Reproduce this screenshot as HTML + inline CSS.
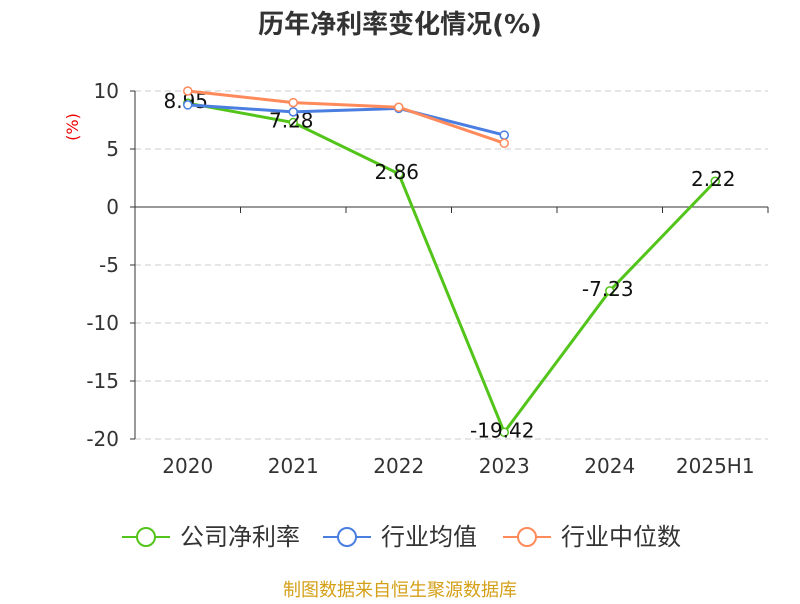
<!DOCTYPE html>
<html><head><meta charset="utf-8"><style>
body{margin:0;background:#fff;font-family:"DejaVu Sans","Noto Sans CJK SC",sans-serif}
</style></head><body>
<svg id="c" width="800" height="600" xmlns="http://www.w3.org/2000/svg" font-family="DejaVu Sans, Noto Sans CJK SC, sans-serif">
<text x="400" y="33" text-anchor="middle" font-size="26" font-weight="bold" fill="#333">历年净利率变化情况(%)</text>
<text x="78" y="127" text-anchor="middle" font-size="16" fill="#e00" transform="rotate(-90 78 127)">(%)</text>
<g id="grid"></g><g id="axes"></g><g id="series"></g>
<g font-size="24" fill="#333">
<g><line x1="122" y1="537" x2="170" y2="537" stroke="#52c41a" stroke-width="2"/><circle cx="146" cy="537" r="9" fill="#fff" stroke="#52c41a" stroke-width="2"/><text x="180" y="545">公司净利率</text></g>
<g><line x1="323" y1="537" x2="371" y2="537" stroke="#4a7ee0" stroke-width="2"/><circle cx="347" cy="537" r="9" fill="#fff" stroke="#4a7ee0" stroke-width="2"/><text x="381" y="545">行业均值</text></g>
<g><line x1="503" y1="537" x2="551" y2="537" stroke="#ff8a5b" stroke-width="2"/><circle cx="527" cy="537" r="9" fill="#fff" stroke="#ff8a5b" stroke-width="2"/><text x="561" y="545">行业中位数</text></g>
</g>
<text x="400" y="596" text-anchor="middle" font-size="18" fill="#d4a017">制图数据来自恒生聚源数据库</text>
</svg>
<script>
const categories=["2020","2021","2022","2023","2024","2025H1"];
const companyValues=[8.95,7.28,2.86,-19.42,-7.23,2.22];
const industryAvg=[8.8,8.2,8.5,6.2];
const industryMedian=[10.0,9.0,8.6,5.5];
const yTicks=[10,5,0,-5,-10,-15,-20];
const NS="http://www.w3.org/2000/svg";
const x0=135,x1=768,bw=(x1-x0)/categories.length;
const xs=i=>x0+bw*(i+0.5);
const ys=v=>207-v*11.6;
function mk(t,a,p){const e=document.createElementNS(NS,t);for(const k in a)e.setAttribute(k,a[k]);p.appendChild(e);return e;}
const grid=document.getElementById('grid'),axes=document.getElementById('axes'),ser=document.getElementById('series');
yTicks.forEach(v=>{
 if(v!==0){const l=mk('line',{x1:x0,x2:x1,y1:ys(v),y2:ys(v),stroke:'#ccc','stroke-dasharray':'6,4'},grid);
 }
 const t=mk('text',{x:x0-16,y:ys(v)+7,'text-anchor':'end','font-size':20,fill:'#333'},axes);t.textContent=v;
 
 const tk=mk('line',{x1:x0-5,x2:x0,y1:ys(v),y2:ys(v),stroke:'#333'},axes);
 
});
const ya=mk('line',{x1:x0,x2:x0,y1:ys(10),y2:ys(-20),stroke:'#333'},axes);

const xa=mk('line',{x1:x0,x2:x1,y1:ys(0),y2:ys(0),stroke:'#333'},axes);

for(let i=0;i<=categories.length;i++){const tk=mk('line',{x1:x0+bw*i,x2:x0+bw*i,y1:ys(0),y2:ys(0)+6,stroke:'#333'},axes);
 }
categories.forEach((c,i)=>{const t=mk('text',{x:xs(i),y:473,'text-anchor':'middle','font-size':20,fill:'#333'},axes);t.textContent=c;
 });
function line(vals,color,name,labels){
 const g=mk('g',{},ser);
 const p=mk('polyline',{points:vals.map((v,i)=>xs(i)+','+ys(v)).join(' '),fill:'none',stroke:color,'stroke-width':3},g);
 
 vals.forEach((v,i)=>{const c=mk('circle',{cx:xs(i),cy:ys(v),r:4,fill:'#fff',stroke:color,'stroke-width':1.5},g);
  
  if(labels){const t=mk('text',{x:xs(i)-2,y:ys(v)+5,'text-anchor':'middle','font-size':20,fill:'#111'},g);t.textContent=v.toFixed(2);
   }});
}
line(companyValues,'#52c41a','company-net-margin',true);
line(industryAvg,'#4a7ee0','industry-average',false);
line(industryMedian,'#ff8a5b','industry-median',false);
</script>
</body></html>
